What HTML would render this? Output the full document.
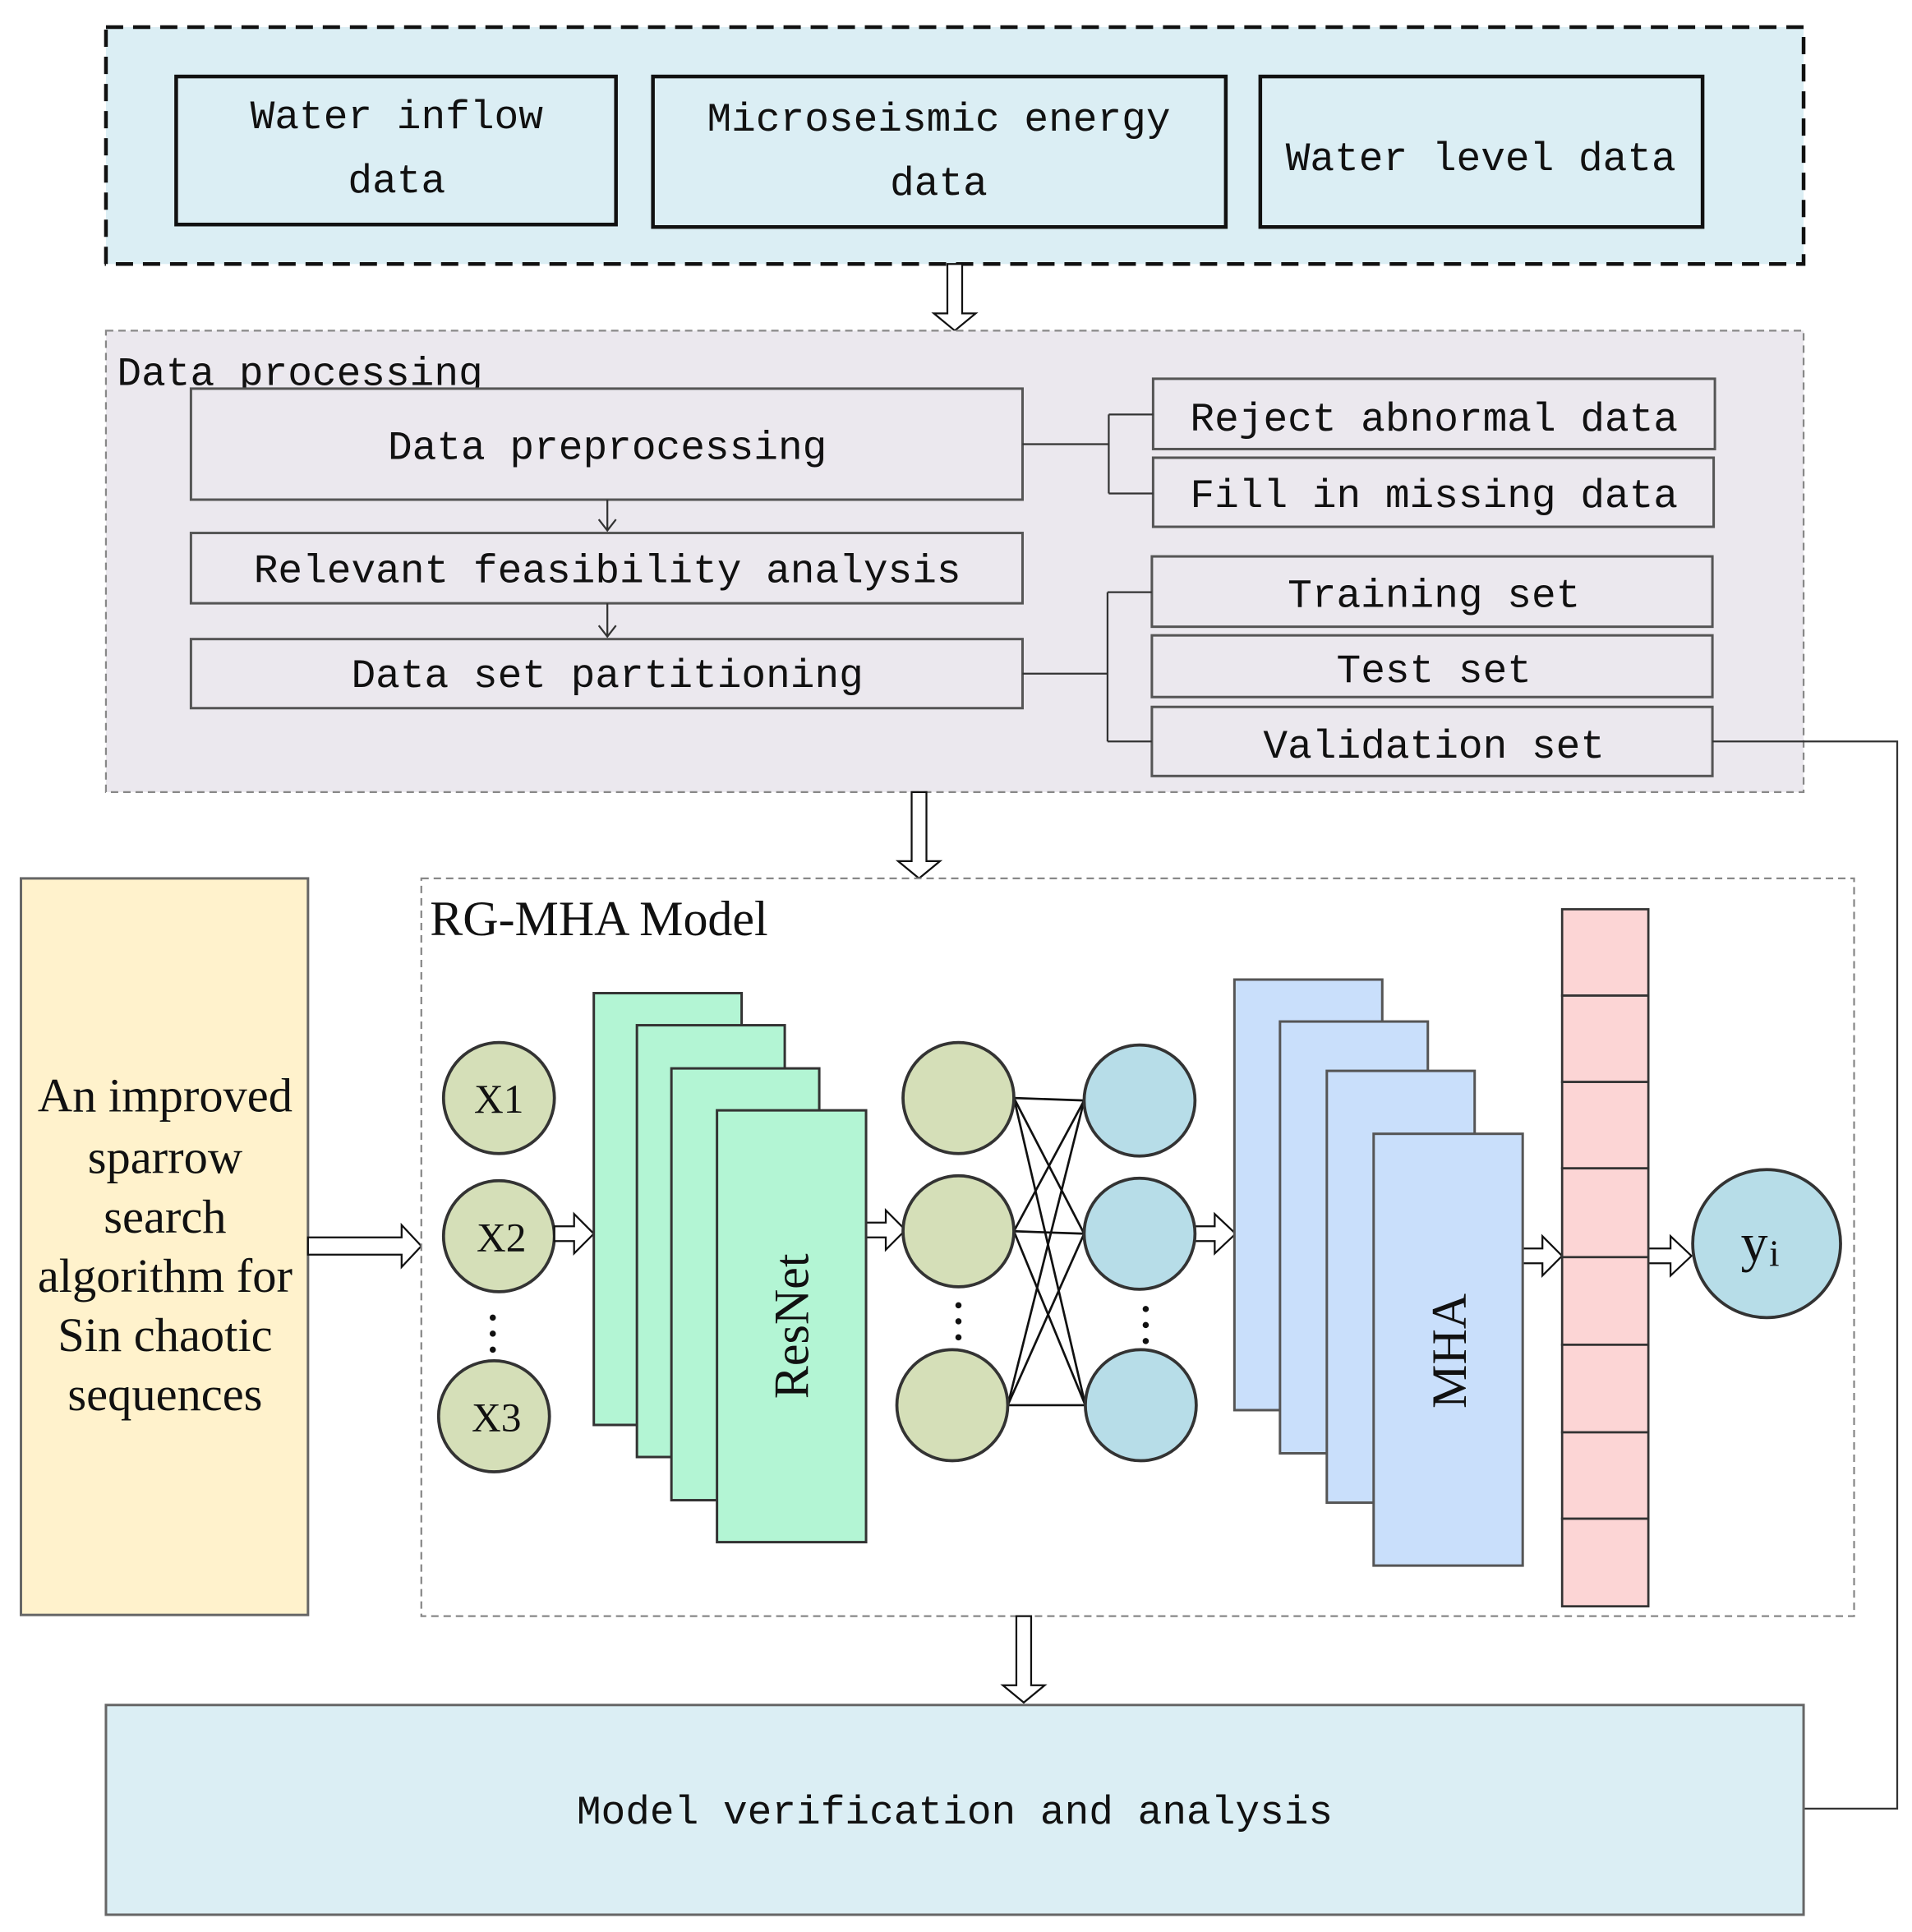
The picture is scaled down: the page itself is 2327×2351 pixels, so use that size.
<!DOCTYPE html>
<html><head><meta charset="utf-8"><style>
html,body{margin:0;padding:0;background:#fff;}
svg{display:block;}
.m{font-family:"Liberation Mono",monospace;font-size:33px;fill:#111;}
.s{font-family:"Liberation Serif",serif;fill:#111;}
</style></head><body>
<svg width="2327" height="2351" viewBox="0 0 1552 1566" preserveAspectRatio="none" xmlns="http://www.w3.org/2000/svg">
<!-- top -->
<rect x="86" y="22" width="1378" height="192" fill="#dbeef4" stroke="#111" stroke-width="3" stroke-dasharray="14,8"/>
<rect x="143" y="62" width="357" height="120" fill="#dbeef4" stroke="#111" stroke-width="3"/>
<rect x="530" y="62" width="465" height="122" fill="#dbeef4" stroke="#111" stroke-width="3"/>
<rect x="1023" y="62" width="359" height="122" fill="#dbeef4" stroke="#111" stroke-width="3"/>
<text class="m" x="322" y="104" text-anchor="middle">Water inflow</text>
<text class="m" x="322" y="156" text-anchor="middle">data</text>
<text class="m" x="762" y="106" text-anchor="middle">Microseismic energy</text>
<text class="m" x="762" y="158" text-anchor="middle">data</text>
<text class="m" x="1202" y="138" text-anchor="middle">Water level data</text>
<polygon points="769,214 781,214 781,254 792,254 775,268 758,254 769,254" fill="#fff" stroke="#111" stroke-width="1.5"/>
<!-- data processing -->
<rect x="86" y="268" width="1378" height="374" fill="#ebe8ee" stroke="#888" stroke-width="1.5" stroke-dasharray="6,4"/>
<text class="m" x="95" y="312">Data processing</text>
<g fill="#ebe8ee" stroke="#555" stroke-width="2">
<rect x="155" y="315" width="675" height="90"/>
<rect x="155" y="432" width="675" height="57"/>
<rect x="155" y="518" width="675" height="56"/>
<rect x="936" y="307" width="456" height="57"/>
<rect x="936" y="371" width="455" height="56"/>
<rect x="935" y="451" width="455" height="57"/>
<rect x="935" y="515" width="455" height="50"/>
<rect x="935" y="573" width="455" height="56"/>
</g>
<text class="m" x="493" y="372" text-anchor="middle">Data preprocessing</text>
<text class="m" x="493" y="472" text-anchor="middle">Relevant feasibility analysis</text>
<text class="m" x="493" y="557" text-anchor="middle">Data set partitioning</text>
<text class="m" x="1164" y="349" text-anchor="middle">Reject abnormal data</text>
<text class="m" x="1164" y="411" text-anchor="middle">Fill in missing data</text>
<text class="m" x="1164" y="492" text-anchor="middle">Training set</text>
<text class="m" x="1164" y="553" text-anchor="middle">Test set</text>
<text class="m" x="1164" y="614" text-anchor="middle">Validation set</text>
<g stroke="#333" stroke-width="1.5" fill="none">
<path d="M493 405 V430 M486 421 L493 430 L500 421"/>
<path d="M493 489 V516 M486 507 L493 516 L500 507"/>
<path d="M830 360 H900 M900 336 V400 M900 336 H936 M900 400 H936"/>
<path d="M830 546 H899 M899 480 V601 M899 480 H935 M899 601 H935"/>
<path d="M1390 601 H1540 V1466 H1464"/>
</g>
<polygon points="740,642 752,642 752,698 763,698 746,712 729,698 740,698" fill="#fff" stroke="#111" stroke-width="1.5"/>
<!-- left box -->
<rect x="17" y="712" width="233" height="597" fill="#fff2cc" stroke="#666" stroke-width="2"/>
<g class="s" font-size="39" text-anchor="middle">
<text x="134" y="901">An improved</text>
<text x="134" y="951">sparrow</text>
<text x="134" y="999">search</text>
<text x="134" y="1047">algorithm for</text>
<text x="134" y="1095">Sin chaotic</text>
<text x="134" y="1143">sequences</text>
</g>
<polygon points="250,1003 326,1003 326,993 342,1010 326,1027 326,1017 250,1017" fill="#fff" stroke="#111" stroke-width="1.5"/>
<!-- model box -->
<rect x="342" y="712" width="1163" height="598" fill="#fff" stroke="#888" stroke-width="1.5" stroke-dasharray="6,4"/>
<text class="s" x="349" y="758" font-size="40">RG-MHA Model</text>
<!-- inputs -->
<g fill="#d5dfb8" stroke="#333" stroke-width="2.5">
<circle cx="405" cy="890" r="45"/><circle cx="405" cy="1002" r="45"/><circle cx="401" cy="1148" r="45"/>
</g>
<g class="s" font-size="33" text-anchor="middle">
<text x="405" y="902">X1</text><text x="407" y="1014">X2</text><text x="403" y="1160">X3</text>
</g>
<g fill="#111"><circle cx="400" cy="1068" r="2.5"/><circle cx="400" cy="1081" r="2.5"/><circle cx="400" cy="1094" r="2.5"/></g>
<!-- small arrows -->
<g fill="#fff" stroke="#111" stroke-width="1.5">
<polygon points="450,994 466,994 466,984 482,1000 466,1016 466,1006 450,1006"/>
<polygon points="703,991 719,991 719,981 735,997 719,1013 719,1003 703,1003"/>
<polygon points="970,994 986,994 986,984 1003,1000 986,1016 986,1006 970,1006"/>
<polygon points="1236,1012 1252,1012 1252,1002 1268,1018 1252,1034 1252,1024 1236,1024"/>
<polygon points="1338,1012 1356,1012 1356,1002 1373,1018 1356,1034 1356,1024 1338,1024"/>
</g>
<!-- resnet -->
<g fill="#b3f5d4" stroke="#333" stroke-width="2">
<rect x="482" y="805" width="120" height="350"/>
<rect x="517" y="831" width="120" height="350"/>
<rect x="545" y="866" width="120" height="350"/>
<rect x="582" y="900" width="121" height="350"/>
</g>
<text class="s" font-size="40" text-anchor="middle" transform="translate(656,1075) rotate(-90)">ResNet</text>
<!-- network -->
<g stroke="#111" stroke-width="1.8">
<line x1="823" y1="890" x2="880" y2="892"/><line x1="823" y1="890" x2="880" y2="1000"/><line x1="823" y1="890" x2="881" y2="1139"/>
<line x1="823" y1="998" x2="880" y2="892"/><line x1="823" y1="998" x2="880" y2="1000"/><line x1="823" y1="998" x2="881" y2="1139"/>
<line x1="818" y1="1139" x2="880" y2="892"/><line x1="818" y1="1139" x2="880" y2="1000"/><line x1="818" y1="1139" x2="881" y2="1139"/>
</g>
<g fill="#d5dfb8" stroke="#333" stroke-width="2.5">
<circle cx="778" cy="890" r="45"/><circle cx="778" cy="998" r="45"/><circle cx="773" cy="1139" r="45"/>
</g>
<g fill="#b7dde8" stroke="#333" stroke-width="2.5">
<circle cx="925" cy="892" r="45"/><circle cx="925" cy="1000" r="45"/><circle cx="926" cy="1139" r="45"/>
</g>
<g fill="#111"><circle cx="778" cy="1058" r="2.5"/><circle cx="778" cy="1071" r="2.5"/><circle cx="778" cy="1084" r="2.5"/>
<circle cx="930" cy="1061" r="2.5"/><circle cx="930" cy="1074" r="2.5"/><circle cx="930" cy="1087" r="2.5"/></g>
<!-- MHA -->
<g fill="#c9dffb" stroke="#555" stroke-width="2">
<rect x="1002" y="794" width="120" height="349"/>
<rect x="1039" y="828" width="120" height="350"/>
<rect x="1077" y="868" width="120" height="350"/>
<rect x="1115" y="919" width="121" height="350"/>
</g>
<text class="s" font-size="40" text-anchor="middle" transform="translate(1190,1095) rotate(-90)">MHA</text>
<!-- pink column -->
<g fill="#fcd5d5" stroke="#333" stroke-width="1.8">
<rect x="1268" y="737" width="70" height="70"/><rect x="1268" y="807" width="70" height="70"/>
<rect x="1268" y="877" width="70" height="70"/><rect x="1268" y="947" width="70" height="72"/>
<rect x="1268" y="1019" width="70" height="71"/><rect x="1268" y="1090" width="70" height="71"/>
<rect x="1268" y="1161" width="70" height="70"/><rect x="1268" y="1231" width="70" height="71"/>
</g>
<circle cx="1434" cy="1008" r="60" fill="#b7dde8" stroke="#333" stroke-width="2.5"/>
<text class="s" x="1413" y="1022" font-size="44">y</text><text class="s" x="1436" y="1026" font-size="30">i</text>
<polygon points="825,1310 837,1310 837,1366 848,1366 831,1380 814,1366 825,1366" fill="#fff" stroke="#111" stroke-width="1.5"/>
<!-- bottom -->
<rect x="86" y="1382" width="1378" height="170" fill="#dbeef4" stroke="#666" stroke-width="2"/>
<text class="m" x="775" y="1478" text-anchor="middle">Model verification and analysis</text>
</svg>
</body></html>
